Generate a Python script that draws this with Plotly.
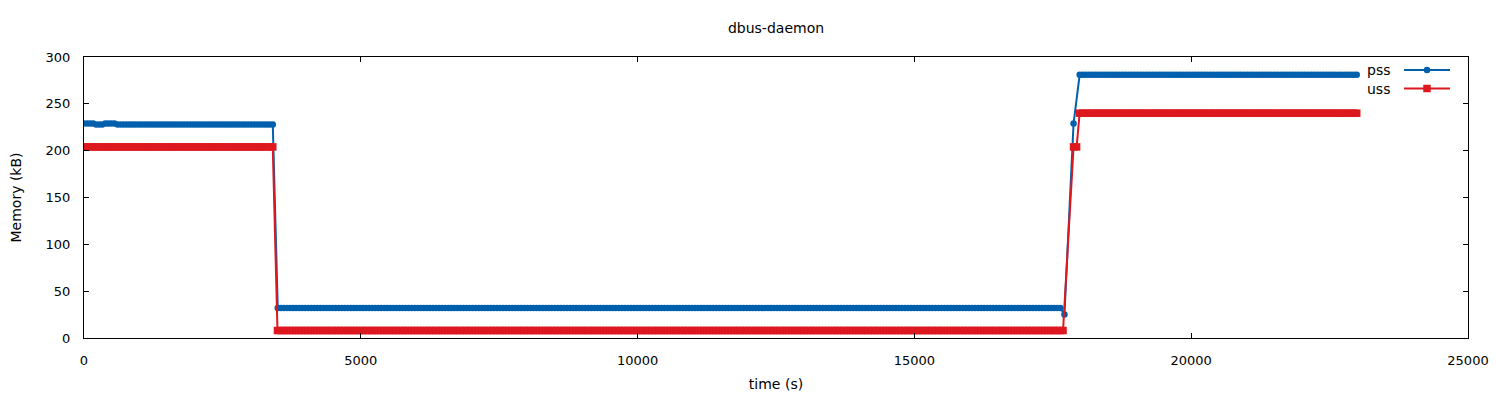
import plotly.graph_objects as go

# ---- data (time in s, memory in kB) ----
SAMPLE_STEP = 55  # seconds between samples

# runs of constant value: (first sample time, last sample time, value)
pss_runs = [
    (0, 165, 229),
    (220, 330, 228),
    (385, 550, 229),
    (605, 3425, 228),
    (3500, 17655, 32),
    (17710, 17710, 25),
    (17875, 17875, 229),
    (17985, 23000, 281),
]
uss_runs = [
    (0, 3430, 204),
    (3495, 17710, 8),
    (17875, 17930, 204),
    (17985, 23020, 240),
]

x_ticks = [0, 5000, 10000, 15000, 20000, 25000]
y_ticks = [0, 50, 100, 150, 200, 250, 300]

title_text = "dbus-daemon"
x_title = "time (s)"
y_title = "Memory (kB)"
series_names = ["pss", "uss"]


def expand(runs):
    ts, vs = [], []
    for start, end, val in runs:
        t = start
        while t <= end:
            ts.append(t)
            vs.append(val)
            t += SAMPLE_STEP
    return ts, vs


pss_t, pss_v = expand(pss_runs)
uss_t, uss_v = expand(uss_runs)

BLUE = "#0060ad"
RED = "#dd181f"
FONT = "DejaVu Sans"

fig = go.Figure()
fig.add_trace(go.Scatter(
    x=pss_t, y=pss_v, mode="lines+markers", name=series_names[0],
    line=dict(color=BLUE, width=2),
    marker=dict(symbol="circle", size=6.5, color=BLUE),
    showlegend=False,
))
fig.add_trace(go.Scatter(
    x=uss_t, y=uss_v, mode="lines+markers", name=series_names[1],
    line=dict(color=RED, width=2),
    marker=dict(symbol="square", size=7.5, color=RED),
    showlegend=False,
))

# the page body has an 8px default margin, so work in screen pixels and offset
OFF = 8
W, H = 1500 - OFF, 400 - OFF
L, R, T, B = 84 - OFF, 32, 57 - OFF, 62
pw, ph = W - L - R, H - T - B


def px(xs):  # screen x -> paper
    return (xs - OFF - L) / pw


def py(ys):  # screen y -> paper
    return (H - B - (ys - OFF)) / ph


# gnuplot-style key: text on the left, sample on the right
key_rows = [(series_names[0], BLUE, 70, "circle", 6.5), (series_names[1], RED, 88.5, "square", 7.5)]
shapes = []
annotations = []
for name, col, yp, sym, sz in key_rows:
    shapes.append(dict(type="line", xref="paper", yref="paper",
                       x0=px(1404), x1=px(1450), y0=py(yp), y1=py(yp),
                       line=dict(color=col, width=2)))
    shapes.append(dict(type="circle" if sym == "circle" else "rect",
                       xref="paper", yref="paper",
                       xsizemode="pixel", ysizemode="pixel",
                       xanchor=px(1427), yanchor=py(yp),
                       x0=-sz / 2, x1=sz / 2, y0=-sz / 2, y1=sz / 2,
                       fillcolor=col, line=dict(color=col, width=0)))
    annotations.append(dict(text=name, xref="paper", yref="paper",
                            x=px(1392), y=py(yp), xanchor="right", yanchor="middle",
                            showarrow=False, font=dict(family=FONT, size=14, color="black")))

axis_common = dict(
    showgrid=False, zeroline=False, showline=True, linecolor="black", linewidth=1,
    mirror="ticks", ticks="inside", ticklen=5, tickwidth=1, tickcolor="black",
    tickfont=dict(family=FONT, size=13, color="black"), automargin=False,
)

fig.update_layout(
    width=W, height=H,
    margin=dict(l=L, r=R, t=T, b=B),
    paper_bgcolor="white", plot_bgcolor="white",
    title=dict(text=title_text, x=(L + pw / 2) / W, xanchor="center",
               y=1 - (28 - OFF) / H, yanchor="middle",
               font=dict(family=FONT, size=14, color="black")),
    xaxis=dict(range=[0, 25000], tickvals=x_ticks, ticktext=[str(v) for v in x_ticks],
               title=dict(text=x_title, standoff=12, font=dict(family=FONT, size=14, color="black")),
               ticklabelstandoff=10,
               **axis_common),
    yaxis=dict(range=[0, 300], tickvals=y_ticks, ticktext=[str(v) for v in y_ticks],
               title=dict(text=y_title, standoff=25, font=dict(family=FONT, size=14, color="black")),
               ticklabelstandoff=10,
               **axis_common),
    shapes=shapes, annotations=annotations,
    showlegend=False,
)

fig.write_html("out.html")
